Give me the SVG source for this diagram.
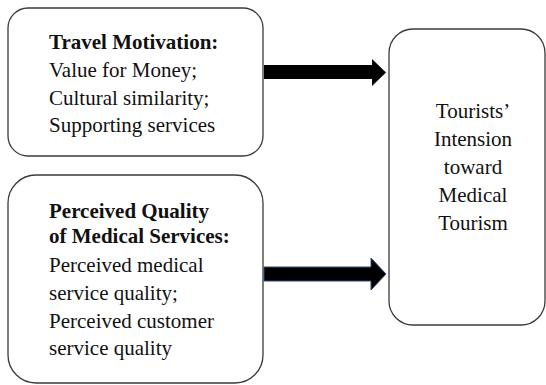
<svg xmlns="http://www.w3.org/2000/svg" width="546" height="385" viewBox="0 0 546 385">
  <style>
    .box { fill: #ffffff; stroke: #3a3a3a; stroke-width: 1.3; }
    .txt { font-family: "Liberation Serif", "Times New Roman", serif; font-size: 21px; fill: #111111; }
    .b { font-weight: bold; }
    .mid { text-anchor: middle; }
    .arrow { fill: #000000; }
    .arrow-edge { fill: #000000; stroke: #2e4a7d; stroke-width: 1; }
  </style>
  <rect width="546" height="385" fill="#ffffff"/>

  <g id="travel-motivation">
    <rect class="box" x="8" y="8" width="255" height="148" rx="20" ry="20"/>
    <text class="txt b" x="49" y="49">Travel Motivation:</text>
    <text class="txt" x="49" y="77">Value for Money;</text>
    <text class="txt" x="49" y="104.5">Cultural similarity;</text>
    <text class="txt" x="49" y="132">Supporting services</text>
  </g>

  <g id="perceived-quality">
    <rect class="box" x="8" y="175" width="255" height="208" rx="28" ry="28"/>
    <text class="txt b" x="49" y="218">Perceived Quality</text>
    <text class="txt b" x="49" y="243">of Medical Services:</text>
    <text class="txt" x="49" y="272">Perceived medical</text>
    <text class="txt" x="49" y="300">service quality;</text>
    <text class="txt" x="49" y="328">Perceived customer</text>
    <text class="txt" x="49" y="355">service quality</text>
  </g>

  <g id="intension">
    <rect class="box" x="389" y="29" width="156" height="296" rx="24" ry="24"/>
    <text class="txt mid" x="473" y="118">Tourists’</text>
    <text class="txt mid" x="473" y="146">Intension</text>
    <text class="txt mid" x="473" y="174">toward</text>
    <text class="txt mid" x="473" y="202">Medical</text>
    <text class="txt mid" x="473" y="230">Tourism</text>
  </g>

  <g id="connectors">
    <polygon class="arrow" points="264,65 372,65 372,59 386,72.5 372,86 372,79 264,79"/>
    <polygon class="arrow-edge" points="264,267 371,267 371,258 386,274 371,290 371,281 264,281"/>
  </g>
</svg>
